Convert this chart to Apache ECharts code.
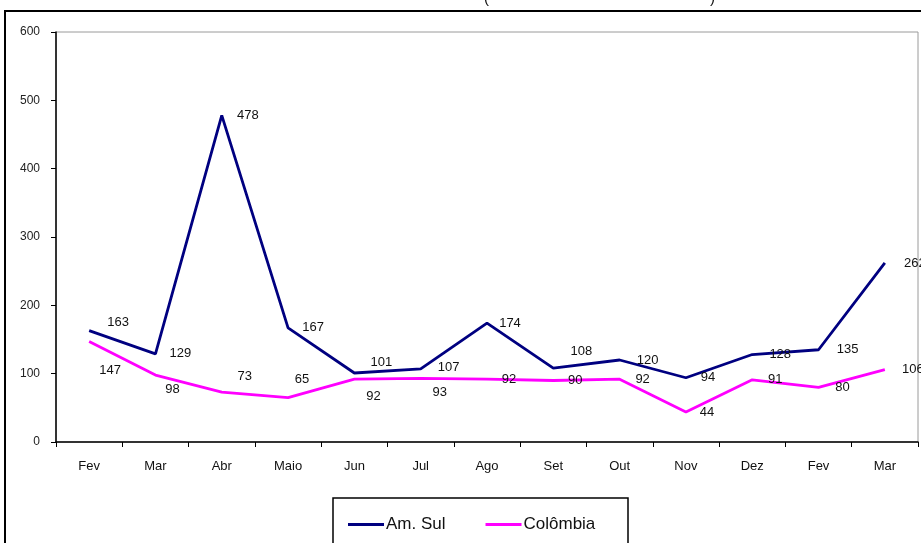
<!DOCTYPE html>
<html>
<head>
<meta charset="utf-8">
<script src="https://cdn.jsdelivr.net/npm/echarts@6/dist/echarts.min.js"></script>
<style>
  html, body { margin: 0; padding: 0; background: #fff; }
  #chart { width: 921px; height: 543px; }
</style>
</head>
<body>
<div id="chart"></div>
<script>
// meses
const categories = ["Fev", "Mar", "Abr", "Maio", "Jun", "Jul", "Ago", "Set", "Out", "Nov", "Dez", "Fev", "Mar"];
const amSul = [163, 129, 478, 167, 101, 107, 174, 108, 120, 94, 128, 135, 262];
const colombia = [147, 98, 73, 65, 92, 93, 92, 90, 92, 44, 91, 80, 106];
const yTicks = [0, 100, 200, 300, 400, 500, 600];

// deslocamento dos rótulos (px) em relação ao ponto
const amSulLabelPos = [[29, -8], [25, 0], [26, 0], [25, 0], [27, -11], [28, -1], [23, 0], [28, -17], [28, 0], [22, 0], [28, 0], [29, 0], [30, 0]];
const colLabelPos = [[21, 29], [17, 14], [23, -16], [14, -18], [19, 17], [19, 14], [22, 0], [22, 0], [23, 0], [21, 0], [23, 0], [24, 0], [28, 0]];

const labelFont = { fontFamily: "Liberation Sans", fontSize: 13, color: "#111" };

const setData = (values, offsets) => {
  let result = [];
  for (let i in values) {
    result.push({
      value: values[i],
      label: { offset: offsets[i] },
    });
  }
  return result;
};

const makeSeries = (name, values, offsets, color) => ({
  name: name,
  type: "line",
  data: setData(values, offsets),
  symbol: "circle",
  symbolSize: 0.1,
  showSymbol: true,
  itemStyle: { color: color },
  lineStyle: { color: color, width: 2.8 },
  label: {
    show: true,
    position: "inside",
    align: "center",
    verticalAlign: "middle",
    ...labelFont,
  },
  emphasis: { disabled: true },
  animation: false,
});

let myChart = echarts.init(document.getElementById("chart"));
let option = {
  backgroundColor: "#fff",
  grid: {
    left: 56,
    right: 3,
    top: 32,
    bottom: 101,
    show: true,
    borderColor: "#9a9a9a",
    borderWidth: 1,
  },
  legend: {
    left: 343,
    top: 511,
    itemGap: 40,
    itemWidth: 36,
    itemHeight: 3,
    textStyle: { fontFamily: "Liberation Sans", fontSize: 17, color: "#111", padding: [0, 0, 0, -3] },
    data: [
      { name: "Am. Sul", icon: "rect" },
      { name: "Colômbia", icon: "rect" },
    ],
  },
  xAxis: {
    type: "category",
    data: categories,
    boundaryGap: true,
    axisLine: { lineStyle: { color: "#000", width: 1.5 } },
    axisTick: { show: true, length: 5, lineStyle: { color: "#000" } },
    axisLabel: { margin: 18, fontFamily: "Liberation Sans", fontSize: 13, color: "#111" },
    splitLine: { show: false },
  },
  yAxis: {
    type: "value",
    min: yTicks[0],
    max: yTicks[yTicks.length - 1],
    interval: 100,
    axisLine: { show: true, lineStyle: { color: "#000", width: 1.5 } },
    axisTick: { show: true, length: 5, lineStyle: { color: "#000" } },
    axisLabel: { margin: 16, fontFamily: "Liberation Sans", fontSize: 12, color: "#222" },
    splitLine: { show: false },
  },
  graphic: [
    { type: "polyline", shape: { points: [[5, 543], [5, 11], [921, 11]] }, style: { stroke: "#000", lineWidth: 2, fill: null } },
    { type: "rect", shape: { x: 333, y: 498, width: 295, height: 60 }, style: { stroke: "#000", lineWidth: 1.5, fill: null } },
    { type: "text", left: 484, top: -9, style: { text: "(", fontSize: 15, fontFamily: "Liberation Sans", fill: "#111" } },
    { type: "text", left: 710, top: -9, style: { text: ")", fontSize: 15, fontFamily: "Liberation Sans", fill: "#111" } },
  ],
  series: [
    makeSeries("Am. Sul", amSul, amSulLabelPos, "#000080"),
    makeSeries("Colômbia", colombia, colLabelPos, "#ff00ff"),
  ],
};
option && myChart.setOption(option);
</script>
</body>
</html>
